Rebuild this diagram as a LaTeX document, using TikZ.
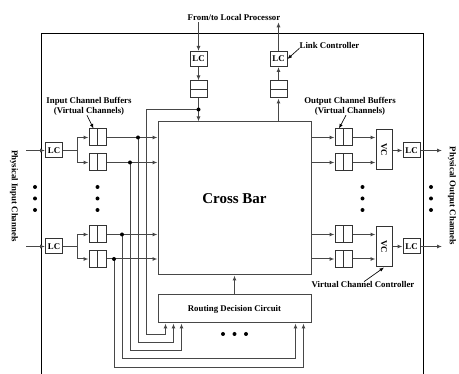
\documentclass[tikz,border=0pt]{standalone}
\usepackage{fontspec}
\setmainfont{Liberation Serif}
\usetikzlibrary{arrows.meta}
\begin{document}
\begin{tikzpicture}[x=1pt,y=-1pt,
  lbl/.style={font=\bfseries\fontsize{8.8}{10}\selectfont, inner sep=0pt},
  wire/.style={draw=black!72, line width=1pt},
  arr/.style={wire, -{Latex[length=5pt,width=4pt]}},
  ptr/.style={draw=black, line width=0.65pt, -{Latex[length=4.5pt,width=3.5pt]}},
  box/.style={draw=black!80, line width=1pt, fill=white, inner sep=0pt},
  lcbox/.style={box, minimum width=17pt, minimum height=15pt, font=\bfseries\fontsize{8.8}{10}\selectfont},
  vbuf/.style={box, minimum width=17pt, minimum height=17pt,
    path picture={\draw[black!80, line width=1pt] (path picture bounding box.north) -- (path picture bounding box.south);}},
  hbuf/.style={box, minimum width=17pt, minimum height=17pt,
    path picture={\draw[black!80, line width=1pt] (path picture bounding box.west) -- (path picture bounding box.east);}},
  vcbox/.style={box, minimum width=16pt, minimum height=40pt, font=\bfseries\fontsize{8.8}{10}\selectfont},
  dot/.style={circle, fill=black, inner sep=0pt, minimum size=4pt},
]
\useasboundingbox (0,0) rectangle (459,374);
% outer frame
\draw[black, line width=0.9pt] (41,374) -- (41,33) -- (423,33) -- (423,374);

% main blocks
\node[box, draw=black!72, minimum width=153pt, minimum height=153pt, font=\bfseries\fontsize{15}{17}\selectfont] (xbar) at (234.5,198.5) {Cross Bar};
\node[box, draw=black!72, minimum width=153pt, minimum height=28pt, font=\bfseries\fontsize{8.8}{10}\selectfont] (rdc) at (234.5,309) {Routing Decision Circuit};

% local processor port
\node[lbl] (fromto) at (234,17) {From/to Local Processor};
\node[lcbox] (lct1) at (198.5,59) {LC};
\node[hbuf] (bt1) at (198.5,89.5) {};
\node[lcbox] (lct2) at (278.5,59) {LC};
\node[hbuf] (bt2) at (278.5,89.5) {};
\coordinate (d0) at (198.5,109.5);

\draw[arr] ([yshift=-2pt]lct1.north |- fromto.south) -- (lct1.north);
\draw[arr] (lct1.south) -- (bt1.north);
\draw[arr] (bt1.south) -- (bt1.south |- xbar.north);
\draw[arr] (bt2.south |- xbar.north) -- (bt2.south);
\draw[arr] (bt2.north) -- (lct2.south);
\draw[arr] (lct2.north) -- ([yshift=-2pt]lct2.north |- fromto.south);

\node[lbl] (lcl) at (329.5,45) {Link Controller};
\draw[ptr] (lcl.south west) -- (lct2.east);

% input side
\node[lbl, rotate=-90] (pil) at (14,196) {Physical Input Channels};
\node[lbl, align=center] (ilbl) at (89,106) {Input Channel Buffers\\(Virtual Channels)};
\node[lcbox] (lci1) at (54,150.5) {LC};
\node[lcbox] (lci2) at (54,246.5) {LC};
\node[vbuf] (bi1) at (97.5,137.5) {};
\node[vbuf] (bi2) at (97.5,162.5) {};
\node[vbuf] (bi3) at (97.5,234.5) {};
\node[vbuf] (bi4) at (97.5,259) {};
\draw[ptr] ([xshift=-2pt]ilbl.south) -- ([xshift=-4pt]bi1.north);

\coordinate (pi1) at (26,150.5);
\coordinate (pi2) at (26,246.5);
\coordinate (s1) at (77,150.5);
\coordinate (s2) at (77,246.5);
\draw[arr] (pi1) -- (lci1.west);
\draw[arr] (pi2) -- (lci2.west);
\draw[wire] (lci1.east) -- (s1);
\draw[wire] (lci2.east) -- (s2);
\draw[arr] (s1) |- (bi1.west);
\draw[arr] (s1) |- (bi2.west);
\draw[arr] (s2) |- (bi3.west);
\draw[arr] (s2) |- (bi4.west);

\draw[arr] (bi1.east) -- (bi1.east -| xbar.west);
\draw[arr] (bi2.east) -- (bi2.east -| xbar.west);
\draw[arr] (bi3.east) -- (bi3.east -| xbar.west);
\draw[arr] (bi4.east) -- (bi4.east -| xbar.west);

\coordinate (d1) at (138,137.5);
\coordinate (d2) at (130,162.5);
\coordinate (d3) at (122,234.5);
\coordinate (d4) at (114,259);

% routing wires
\coordinate (r1) at ([xshift=8pt]rdc.south west);
\coordinate (r2) at ([xshift=16pt]rdc.south west);
\coordinate (r3) at ([xshift=24pt]rdc.south west);
\coordinate (r4) at ([xshift=-16pt]rdc.south east);
\coordinate (r5) at ([xshift=-8pt]rdc.south east);
\draw[arr] (d0) -| (146,335) -| (r1);
\draw[arr] (d1) -- (138,343) -| (r2);
\draw[arr] (d2) -- (130,351) -| (r3);
\draw[arr] (d3) -- (122,359) -| (r4);
\draw[arr] (d4) -- (114,368) -| (r5);
\draw[arr] (rdc.north) -- (rdc.north |- xbar.south);

\node[dot] (dd0) at (d0) {};
\node[dot] (dd1) at (d1) {};
\node[dot] (dd2) at (d2) {};
\node[dot] (dd3) at (d3) {};
\node[dot] (dd4) at (d4) {};

% output side
\node[lbl, rotate=-90] (pol) at (452,196) {Physical Output Channels};
\node[lbl, align=center] (olbl) at (350,106) {Output Channel Buffers\\(Virtual Channels)};
\node[vbuf] (bo1) at (343.5,137.5) {};
\node[vbuf] (bo2) at (343.5,162.5) {};
\node[vbuf] (bo3) at (343.5,234.5) {};
\node[vbuf] (bo4) at (343.5,259) {};
\node[vcbox] (vc1) at (384,150) {\rotatebox{-90}{VC}};
\node[vcbox] (vc2) at (384,247) {\rotatebox{-90}{VC}};
\node[lcbox] (lco1) at (411.5,150.5) {LC};
\node[lcbox] (lco2) at (411.5,246.5) {LC};
\draw[ptr] ([xshift=-4pt]olbl.south) -- ([xshift=-4.5pt]bo1.north);

\draw[arr] (bo1.west -| xbar.east) -- (bo1.west);
\draw[arr] (bo2.west -| xbar.east) -- (bo2.west);
\draw[arr] (bo3.west -| xbar.east) -- (bo3.west);
\draw[arr] (bo4.west -| xbar.east) -- (bo4.west);
\draw[arr] (bo1.east) -- (bo1.east -| vc1.west);
\draw[arr] (bo2.east) -- (bo2.east -| vc1.west);
\draw[arr] (bo3.east) -- (bo3.east -| vc2.west);
\draw[arr] (bo4.east) -- (bo4.east -| vc2.west);
\draw[arr] (vc1.east |- lco1.west) -- (lco1.west);
\draw[arr] (vc2.east |- lco2.west) -- (lco2.west);
\coordinate (po1) at (442,150.5);
\coordinate (po2) at (442,246.5);
\draw[arr] (lco1.east) -- (po1);
\draw[arr] (lco2.east) -- (po2);

\node[lbl] (vcl) at (363,285) {Virtual Channel Controller};
\draw[ptr] ([xshift=1pt]vcl.north) -- (vc2.south);

% ellipsis dots
\foreach \y [count=\i] in {187,198.5,210} {
  \node[dot] (ea\i) at (35,\y) {};
  \node[dot] (eb\i) at (97.5,\y) {};
  \node[dot] (ec\i) at (362.5,\y) {};
  \node[dot] (ed\i) at (431,\y) {};
}
\foreach \x [count=\i] in {223,234.5,246} {
  \node[dot] (ee\i) at (\x,334) {};
}
\end{tikzpicture}
\end{document}
